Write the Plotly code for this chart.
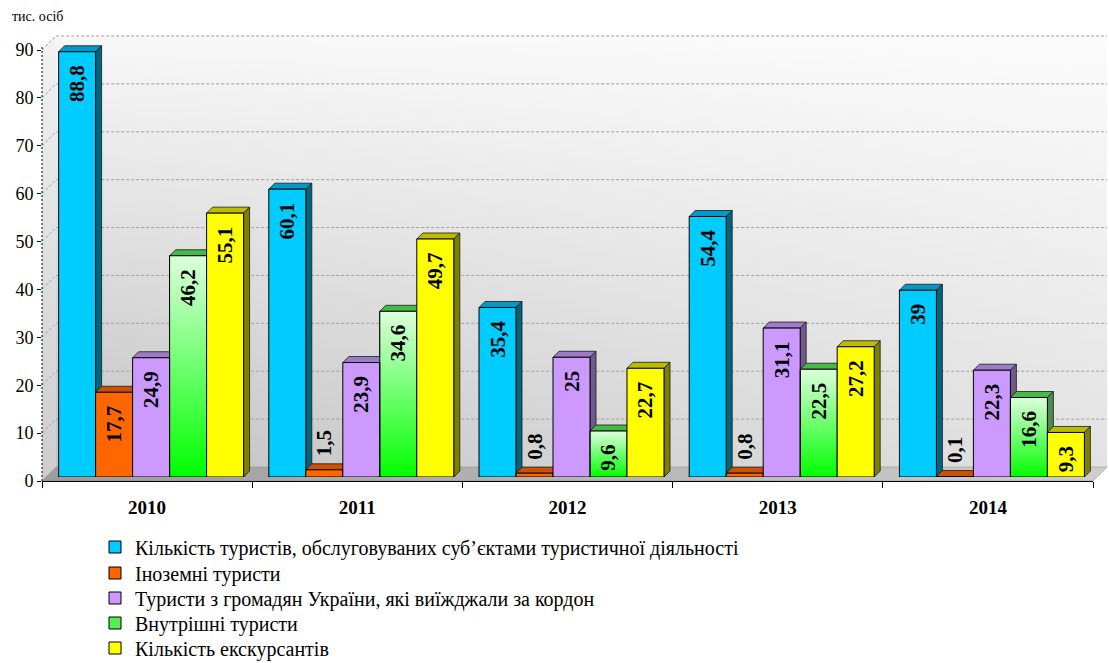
import plotly.graph_objects as go

# ---------------- data ----------------
years = ["2010", "2011", "2012", "2013", "2014"]
series_names = [
    "Кількість туристів, обслуговуваних суб’єктами туристичної діяльності",
    "Іноземні туристи",
    "Туристи з громадян України, які виїжджали за кордон",
    "Внутрішні туристи",
    "Кількість екскурсантів",
]
tourists_served = [88.8, 60.1, 35.4, 54.4, 39]
foreign_tourists = [17.7, 1.5, 0.8, 0.8, 0.1]
outbound_tourists = [24.9, 23.9, 25, 31.1, 22.3]
domestic_tourists = [46.2, 34.6, 9.6, 22.5, 16.6]
excursionists = [55.1, 49.7, 22.7, 27.2, 9.3]
y_ticks = [0, 10, 20, 30, 40, 50, 60, 70, 80, 90]
unit_label = "тис. осіб"

series_values = [tourists_served, foreign_tourists, outbound_tourists,
                 domestic_tourists, excursionists]

# ---------------- styles ----------------
front_colors = ["#00CCFF", "#FF6600", "#CC99FF", "#55EE55", "#FFFF00"]
top_colors = ["#0099CC", "#CC5200", "#9C7CC8", "#44BB44", "#BDBD00"]
side_colors = ["#00667F", "#8F3A00", "#6E5A8C", "#4F8A4F", "#808000"]
FONT = "Liberation Serif, Times New Roman, serif"

W, H = 1109, 663


def xd(p0, p1):
    return [p0 / W, p1 / W]


def yd(pb, pt):
    return [(H - pb) / H, (H - pt) / H]


# front axis plane (pixels)
AX_X0, AX_X1 = 42, 1093
AX_Y0, AX_Y90 = 481, 50
Y_PER = (AX_Y0 - AX_Y90) / 90.0
DEPTH = 14          # wall depth in px
BAR_SHIFT = 4       # bars sit slightly behind the front plane
BAR_DEPTH = 6       # 3D depth of each bar
BAR_YMAX = 95
bar_top_px = (AX_Y0 - BAR_SHIFT) - BAR_YMAX * Y_PER
CAT_PX = (AX_X1 - AX_X0) / len(years)

GAP = 0.12
BW = (1 - GAP) / len(series_values)
DX = BAR_DEPTH / CAT_PX
DY = BAR_DEPTH / Y_PER

LEGEND_X = 95
LEGEND_ROWS = [547, 573, 598, 623, 648]


def fmt(v):
    return f"{v:g}".replace(".", ",")


fig = go.Figure()

# ---------- decorations (pixel coordinate subplot xy) ----------
wx0, wx1 = AX_X0 + DEPTH, AX_X1 + DEPTH
wy_top = AX_Y90 - DEPTH
wy_bot = AX_Y0 - DEPTH
wall_x = [wx0, wx1, wx1, wx0, wx0]
wall_y = [wy_bot, wy_bot, wy_top, wy_top, wy_bot]
fig.add_trace(go.Scatter(x=wall_x, y=wall_y, fill="toself", mode="none",
                         fillgradient=dict(type="horizontal",
                                           colorscale=[[0, "#c2c2c2"], [1, "#e2e2e2"]]),
                         showlegend=False, hoverinfo="skip", xaxis="x", yaxis="y"))
fig.add_trace(go.Scatter(x=wall_x, y=wall_y, fill="toself", mode="none",
                         fillgradient=dict(type="vertical",
                                           colorscale=[[0, "rgba(255,255,255,0)"],
                                                       [1, "rgba(255,255,255,0.88)"]]),
                         showlegend=False, hoverinfo="skip", xaxis="x", yaxis="y"))
# left side wall
fig.add_trace(go.Scatter(x=[AX_X0, wx0, wx0, AX_X0, AX_X0],
                         y=[AX_Y0, wy_bot, wy_top, AX_Y90, AX_Y0],
                         fill="toself", mode="none",
                         fillgradient=dict(type="vertical",
                                           colorscale=[[0, "#cdcdcd"], [1, "#f2f2f2"]]),
                         showlegend=False, hoverinfo="skip", xaxis="x", yaxis="y"))
# gridlines
gx, gy = [], []
for t in y_ticks[1:]:
    yf = AX_Y0 - t * Y_PER
    yb = yf - DEPTH
    gx += [AX_X0, wx0, wx1, None]
    gy += [yf, yb, yb, None]
fig.add_trace(go.Scatter(x=gx, y=gy, mode="lines",
                         line=dict(color="#a0a0a0", width=1, dash="3px,2px"),
                         showlegend=False, hoverinfo="skip", xaxis="x", yaxis="y"))
# floor
fig.add_trace(go.Scatter(x=[AX_X0, AX_X1, wx1, wx0, AX_X0],
                         y=[AX_Y0, AX_Y0, wy_bot, wy_bot, AX_Y0],
                         fill="toself", mode="lines", line=dict(color="#8a8a8a", width=0.5),
                         fillgradient=dict(type="horizontal",
                                           colorscale=[[0, "#9c9c9c"], [1, "#cdcdcd"]]),
                         showlegend=False, hoverinfo="skip", xaxis="x", yaxis="y"))
# dotted y axis line
fig.add_trace(go.Scatter(x=[AX_X0, AX_X0], y=[AX_Y0, AX_Y90 - 4], mode="lines",
                         line=dict(color="black", width=1, dash="2px,2px"),
                         showlegend=False, hoverinfo="skip", xaxis="x", yaxis="y"))

# ---------- 3D faces (subplot x2y2) ----------
xs = list(range(len(years)))
offsets = [-0.5 + GAP / 2 + i * BW for i in range(len(series_values))]

# solid green bar, used for the legend entry (hidden under gradient)
fig.add_trace(go.Bar(x=xs, y=domestic_tourists, offset=offsets[3], width=BW,
                     marker=dict(color=front_colors[3], line=dict(color="black", width=1)),
                     name=series_names[3], legend="legend4", hoverinfo="skip",
                     xaxis="x2", yaxis="y2"))

for i, vals in enumerate(series_values):
    for k, v in zip(xs, vals):
        x0 = k + offsets[i]
        x1 = x0 + BW
        fig.add_trace(go.Scatter(
            x=[x0, x1, x1 + DX, x0 + DX, x0], y=[v, v, v + DY, v + DY, v],
            fill="toself", fillcolor=top_colors[i], mode="lines",
            line=dict(color="#1a1a1a", width=0.8),
            showlegend=False, hoverinfo="skip", xaxis="x2", yaxis="y2"))
        fig.add_trace(go.Scatter(
            x=[x1, x1 + DX, x1 + DX, x1, x1], y=[0, DY, v + DY, v, 0],
            fill="toself", fillcolor=side_colors[i], mode="lines",
            line=dict(color="#1a1a1a", width=0.8),
            showlegend=False, hoverinfo="skip", xaxis="x2", yaxis="y2"))

# gradient fronts of the green bars
for k, v in zip(xs, domestic_tourists):
    x0 = k + offsets[3]
    x1 = x0 + BW
    fig.add_trace(go.Scatter(
        x=[x0, x1, x1, x0, x0], y=[0, 0, v, v, 0], fill="toself", mode="none",
        fillgradient=dict(type="vertical",
                          colorscale=[[0, "#00FF00"], [1, "#DDFFDD"]]),
        showlegend=False, hoverinfo="skip", xaxis="x2", yaxis="y2"))

# ---------- bars front faces (subplot x3y3) ----------
legend_ids = ["legend", "legend2", "legend3", "legend4", "legend5"]
for i, vals in enumerate(series_values):
    pos = ["inside" if v >= 5 else "outside" for v in vals]
    txt = [(fmt(v) + "\u00a0\u00a0") if p == "inside" else ("\u00a0\u00a0" + fmt(v))
           for v, p in zip(vals, pos)]
    is_green = (i == 3)
    fig.add_trace(go.Bar(
        x=xs, y=vals, offset=offsets[i], width=BW,
        marker=dict(color="rgba(0,0,0,0)" if is_green else front_colors[i],
                    line=dict(color="black", width=1)),
        text=txt, textposition=pos, textangle=-90, constraintext="none",
        insidetextanchor="end",
        textfont=dict(family=FONT, size=21, color="black", weight="bold"),
        name=series_names[i], legend=legend_ids[i], showlegend=not is_green,
        hovertext=[f"{years[k]}: {fmt(v)}" for k, v in zip(xs, vals)],
        hoverinfo="text",
        xaxis="x3", yaxis="y3"))

# ---------- visible axes (subplot x4y4) ----------
fig.add_trace(go.Scatter(x=years, y=[0] * len(years), mode="markers",
                         marker=dict(opacity=0), showlegend=False, hoverinfo="skip",
                         xaxis="x4", yaxis="y4"))

hidden = dict(visible=False, fixedrange=True, automargin=False)
bar_xdom = xd(AX_X0 + BAR_SHIFT, AX_X1 + BAR_SHIFT)
bar_ydom = yd(AX_Y0 - BAR_SHIFT, bar_top_px)

legend_common = dict(orientation="v", xanchor="left", yanchor="middle",
                     font=dict(family=FONT, size=20, color="black"),
                     bgcolor="rgba(0,0,0,0)", borderwidth=0)
legends = {}
for j, lid in enumerate(legend_ids):
    legends[lid] = dict(x=LEGEND_X / W, y=(H - LEGEND_ROWS[j]) / H, **legend_common)

fig.update_layout(
    width=W, height=H,
    margin=dict(l=0, r=0, t=0, b=0, autoexpand=False),
    paper_bgcolor="white", plot_bgcolor="rgba(0,0,0,0)",
    barmode="overlay",
    font=dict(family=FONT, color="black"),
    xaxis=dict(range=[0, W], domain=[0, 1], **hidden),
    yaxis=dict(range=[H, 0], domain=[0, 1], anchor="x", **hidden),
    xaxis2=dict(range=[-0.5, len(years) - 0.5], domain=bar_xdom, anchor="y2", **hidden),
    yaxis2=dict(range=[0, BAR_YMAX], domain=bar_ydom, anchor="x2", **hidden),
    xaxis3=dict(range=[-0.5, len(years) - 0.5], domain=bar_xdom, anchor="y3", **hidden),
    yaxis3=dict(range=[0, BAR_YMAX], domain=bar_ydom, anchor="x3", **hidden),
    xaxis4=dict(type="category", categoryorder="array", categoryarray=years,
                range=[-0.5, len(years) - 0.5], domain=xd(AX_X0, AX_X1), anchor="y4",
                tickson="boundaries", ticks="outside", ticklen=6, tickcolor="black",
                showline=True, linecolor="black", linewidth=1, showgrid=False,
                zeroline=False, ticklabelstandoff=9, automargin=False,
                tickfont=dict(family=FONT, size=19, color="black", weight="bold"),
                fixedrange=True),
    yaxis4=dict(range=[0, 90], domain=yd(AX_Y0, AX_Y90), anchor="x4",
                tickvals=y_ticks, ticks="outside", ticklen=4, tickcolor="black",
                showline=False, showgrid=False, zeroline=False, automargin=False,
                tickfont=dict(family=FONT, size=18, color="black"),
                fixedrange=True),
    annotations=[dict(text=unit_label, xref="paper", yref="paper",
                      x=10 / W, y=(H - 16) / H,
                      xanchor="left", yanchor="middle", showarrow=False,
                      font=dict(family=FONT, size=14, color="black"))],
    showlegend=True,
    **legends,
)

fig.write_html("out.html",
               config={"displayModeBar": False},
               post_script="document.body.style.margin='0';"
                           "document.body.style.padding='0';"
                           "document.body.style.overflow='hidden';")
